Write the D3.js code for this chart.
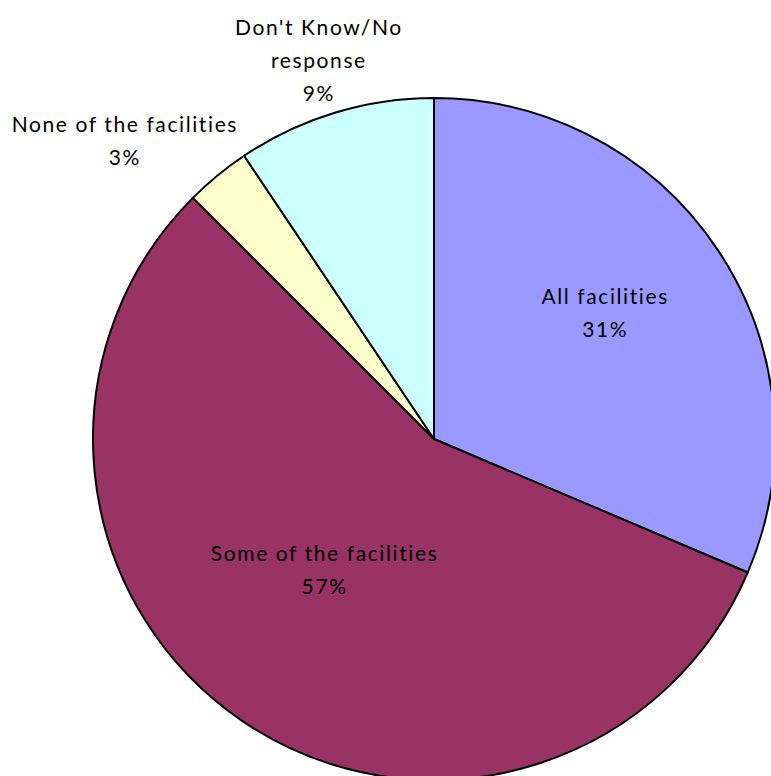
<!DOCTYPE html>
<html>
  <head>
    <meta charset="utf-8">
    <title>Facilities pie</title>
    <script src="https://cdn.jsdelivr.net/npm/d3@7"></script>
    <style>
      body { margin: 0; background: #fff; }
      svg { display: block; }
      text {
        font-family: Lato, "Open Sans", sans-serif;
        font-size: 21px;
        letter-spacing: 1.6px;
        font-variant-ligatures: none;
        font-feature-settings: "liga" 0;
        fill: #000;
      }
    </style>
  </head>
  <body>
    <svg id="chart" width="771" height="776"></svg>
    <script>
      // data
      categories = ["All facilities", "Some of the facilities", "None of the facilities", "Don't Know/No response"];
      shares = [31.4, 56.1, 3.1, 9.4];
      pctLabels = ["31%", "57%", "3%", "9%"];
      colours = ["#9999ff", "#993366", "#ffffcc", "#ccffff"];

      // label lines as Excel wrapped them
      labelLines = [["All facilities"], ["Some of the facilities"], ["None of the facilities"], ["Don't Know/No", "response"]];
      labelRadius = [0.63, 0.5, 1.26, 1.16];
      labelNudge = [[-8, -7], [-14, -10], [0, 1], [0, 0]];

      svg = d3.select("#chart");
      cx = 434; cy = 439; r = 341;

      pie = d3.pie()
        .sort(null)
        .value(function(d) { return d; });
      arc = d3.arc().innerRadius(0).outerRadius(r);
      arcs = pie(shares);

      g = svg.append("g").attr("transform", "translate(" + cx + "," + cy + ")");

      g.selectAll("path")
        .data(arcs)
      .enter().append("path")
        .attr("d", arc)
        .attr("fill", function(d, i) { return colours[i]; })
        .attr("stroke", "#000")
        .attr("stroke-width", 2)
        .attr("stroke-linejoin", "round");

      lineH = 33;
      labels = g.selectAll("text.lbl")
        .data(arcs)
      .enter().append("text")
        .attr("class", "lbl")
        .attr("text-anchor", "middle")
        .attr("transform", function(d, i) {
          var a = (d.startAngle + d.endAngle) / 2;
          if (i == 2) a -= 0.115;
          var rr = r * labelRadius[i];
          var x = rr * Math.sin(a) + labelNudge[i][0],
              y = -rr * Math.cos(a) + labelNudge[i][1];
          return "translate(" + x + "," + y + ")";
        });

      labels.each(function(d, i) {
        var lines = labelLines[i].concat([pctLabels[i]]);
        var t = d3.select(this);
        var y0 = -(lines.length - 1) * lineH / 2;
        lines.forEach(function(s, k) {
          t.append("tspan")
            .attr("x", 0)
            .attr("y", y0 + k * lineH)
            .attr("dy", "0.35em")
            .text(s);
        });
      });
    </script>
  </body>
</html>
